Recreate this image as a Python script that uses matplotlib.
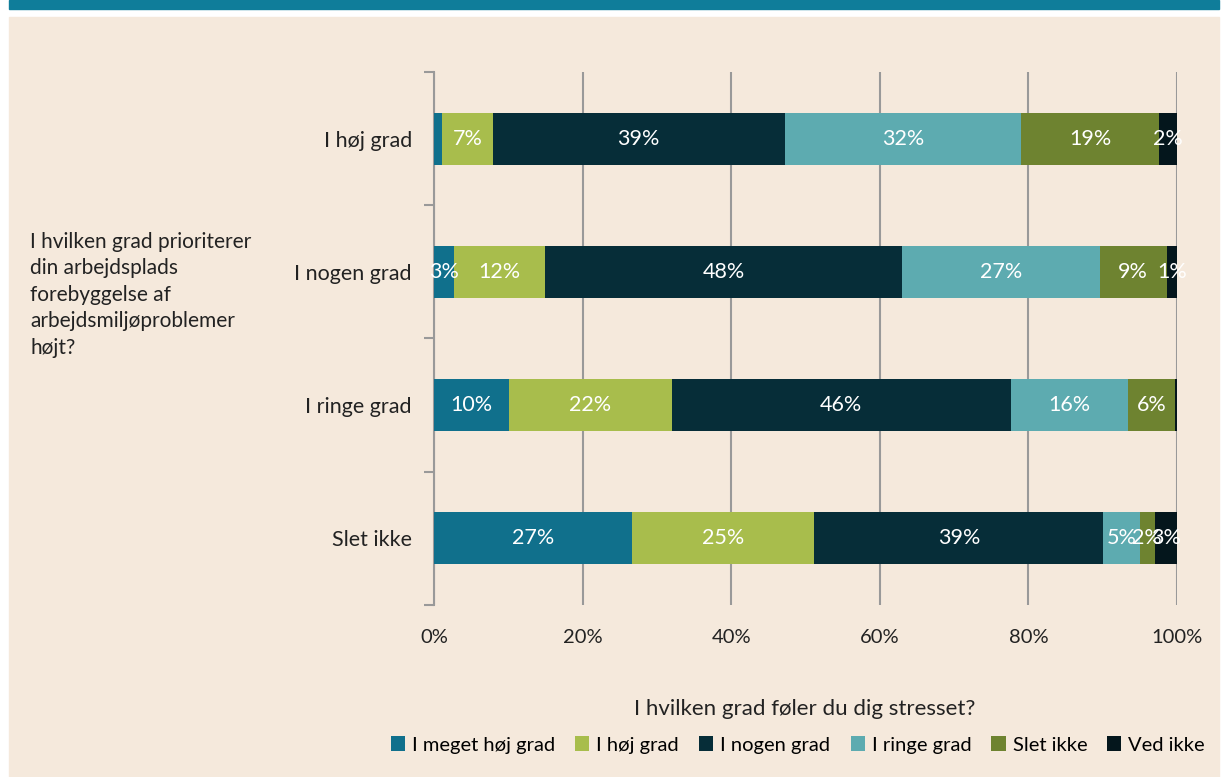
import matplotlib.pyplot as plt
import matplotlib.patches as mpatches
import numpy as np

plt.rcParams['font.family'] = ['Lato', 'DejaVu Sans']

# Data
rows = ["I høj grad", "I nogen grad", "I ringe grad", "Slet ikke"]
series = ["I meget høj grad", "I høj grad", "I nogen grad", "I ringe grad", "Slet ikke", "Ved ikke"]
meget_hoj = [1.1, 2.7, 10.1, 26.6]
hoj = [6.8, 12.2, 21.9, 24.6]
nogen = [39.3, 48.1, 45.6, 38.9]
ringe = [31.8, 26.6, 15.8, 4.9]
slet_ikke = [18.6, 9.0, 6.3, 2.0]
ved_ikke = [2.4, 1.4, 0.3, 3.0]
values = [meget_hoj, hoj, nogen, ringe, slet_ikke, ved_ikke]
colors = ["#10708C", "#A8BD4C", "#062D38", "#5DABB0", "#6E8330", "#04161C"]
x_ticks = [0, 20, 40, 60, 80, 100]

bg = "#F5E9DC"
txt = "#222222"
fig = plt.figure(figsize=(12.25, 7.77), dpi=100, facecolor="white")
fig.patches.append(mpatches.Rectangle((9 / 1225, 0), 1210 / 1225, 1 - 17 / 777,
                                      transform=fig.transFigure, color=bg, zorder=-2))
fig.patches.append(mpatches.Rectangle((9 / 1225, 1 - 9 / 777), 1210 / 1225, 9 / 777,
                                      transform=fig.transFigure, color="#0F7D9A", zorder=-2))

ax = fig.add_axes([434 / 1225, 1 - 605 / 777, 743 / 1225, 533 / 777])
ax.set_facecolor("none")

y = np.arange(len(rows))
left = np.zeros(len(rows))
for name, vals, c in zip(series, values, colors):
    vals = np.array(vals)
    ax.barh(y, vals, left=left, height=0.39, color=c, label=name, zorder=3)
    for yi, l, v in zip(y, left, vals):
        if v >= 1.2:
            ax.text(l + v / 2, yi, f"{round(v)}%", ha="center", va="center",
                    color="white", fontsize=15.5, zorder=4)
    left += vals

ax.set_xlim(0, 100)
ax.set_ylim(3.5, -0.5)
ax.set_xticks(x_ticks)
ax.set_xticklabels([f"{t}%" for t in x_ticks], fontsize=14.5, color=txt)
ax.tick_params(axis="x", length=0, pad=17)
ax.set_yticks(y)
ax.set_yticklabels(rows, fontsize=15.5, color=txt)
ax.set_yticks(np.arange(-0.5, 4, 1), minor=True)
ax.tick_params(axis="y", which="major", length=0, pad=16)
ax.tick_params(axis="y", which="minor", length=7, width=1.5, color="#999999")
ax.xaxis.grid(True, color="#999999", lw=1.5, zorder=0)
for s in ["top", "right", "bottom"]:
    ax.spines[s].set_visible(False)
ax.spines["left"].set_color("#999999")
ax.spines["left"].set_linewidth(1.5)

fig.text(30 / 1225, 1 - 232 / 777,
         "I hvilken grad prioriterer\ndin arbejdsplads\nforebyggelse af\narbejdsmiljøproblemer\nhøjt?",
         ha="left", va="top", fontsize=15, color=txt, linespacing=1.4)

fig.text(805 / 1225, 1 - 709 / 777, "I hvilken grad føler du dig stresset?",
         ha="center", va="center", fontsize=16, color=txt)

fig.legend(loc="center", bbox_to_anchor=(798 / 1225, 1 - 745 / 777), ncol=6,
           frameon=False, fontsize=14.5, handlelength=0.7, handleheight=0.7,
           handletextpad=0.35, columnspacing=1.0, borderaxespad=0)

fig.savefig("out.png", dpi=100, facecolor=fig.get_facecolor())
